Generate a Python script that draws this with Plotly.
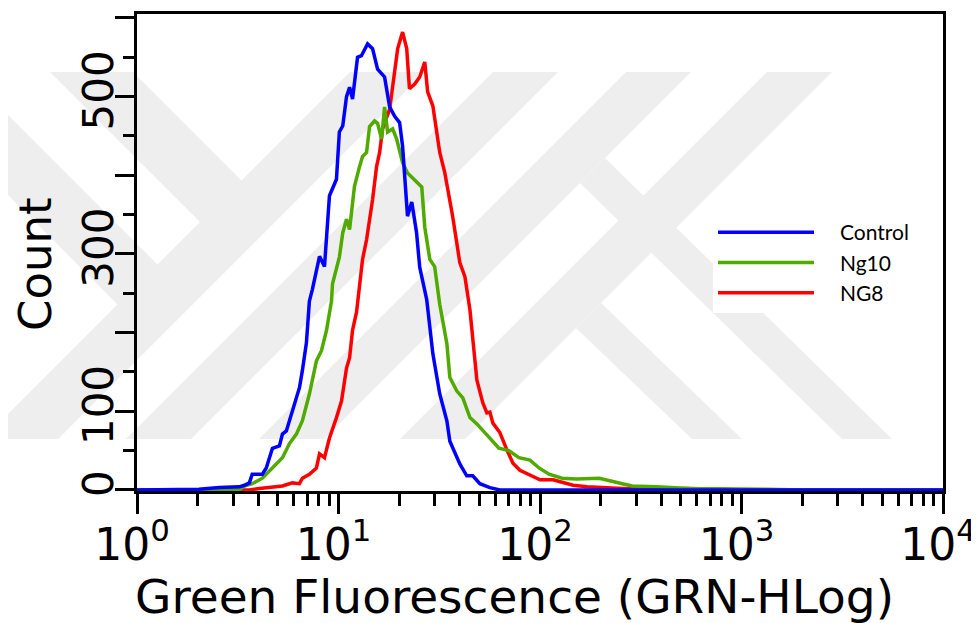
import plotly.graph_objects as go

# ---------------- data ----------------
control_x = [1, 2.03, 2.56, 3.22, 3.41, 3.61, 3.73, 4.19, 4.38, 4.70, 5.09, 5.27, 5.51, 5.90,
             6.40, 6.62, 6.93, 7.17, 7.42, 8.05, 8.52, 9.02, 9.77, 10.1, 10.5, 10.96, 11.35,
             11.74, 12.43, 13.0, 13.94, 14.76, 15.63, 16.93, 17.94, 19.0, 20.1, 20.8, 21.8,
             22.0, 23.1, 24.4, 25.3, 27.4, 29.4, 31.8, 34.5, 35.7, 40.0, 43.3, 46.4, 50.3,
             56.4, 63.2, 10000]
control_y = [0, 1, 3, 4, 6, 9, 20, 20, 28, 53, 56, 71, 75, 100,
             130, 152, 187, 240, 255, 297, 284, 374, 395, 455, 463, 500, 512,
             497, 550, 552, 567, 561, 535, 525, 487, 475, 467, 437, 369,
             348, 366, 327, 283, 242, 173, 122, 88, 62, 33, 18, 18, 8,
             3, 0, 0]

ng10_x = [1, 3.22, 3.41, 3.73, 4.19, 4.54, 4.92, 5.27, 5.71, 6.18, 6.62, 7.17, 7.77, 8.23,
          8.72, 9.23, 9.34, 10.1, 10.5, 10.96, 11.35, 12.0, 12.72, 13.16, 13.78, 14.26, 15.1,
          15.63, 16.36, 16.93, 17.53, 18.57, 19.44, 20.8, 22.0, 23.3, 25.9, 26.8, 28.4, 30.0,
          31.8, 34.5, 35.7, 38.6, 41.4, 44.9, 48.6, 54.5, 62.5, 70.1, 78.6, 89.2, 98.9,
          110.9, 128.6, 151, 197, 256, 287, 378, 551, 1331, 1966, 10000]
ng10_y = [0, 0, 5, 8, 15, 24, 33, 41, 59, 71, 88, 122, 164, 177,
          203, 240, 262, 296, 327, 344, 331, 386, 411, 424, 429, 462, 469,
          466, 446, 487, 455, 459, 446, 416, 403, 397, 385, 334, 293, 284,
          236, 186, 143, 126, 117, 92, 84, 70, 53, 50, 41, 38, 28,
          20, 15, 14, 15, 8, 5, 4, 2, 1, 0, 0]

ng8_x = [1, 3.61, 4.05, 5.27, 5.90, 6.40, 6.62, 7.17, 7.77, 8.05, 8.52, 9.02, 9.77, 10.35,
         10.96, 11.35, 11.74, 12.29, 13.16, 13.78, 14.76, 15.45, 16.0, 16.55, 17.94, 19.0,
         19.67, 20.8, 21.8, 22.5, 23.9, 25.3, 26.8, 27.7, 29.4, 31.8, 33.7, 36.9, 40.0, 42.4,
         44.9, 48.6, 52.0, 54.5, 56.4, 58.4, 63.2, 68.5, 73.4, 79.5, 89.2, 100, 116, 130,
         146, 171, 197, 256, 378, 551, 787, 1000, 10000]
ng8_y = [0, 0, 2, 5, 9, 8, 15, 20, 28, 46, 41, 66, 92, 113,
         155, 168, 203, 226, 293, 318, 369, 411, 429, 459, 484, 531,
         561, 582, 561, 510, 516, 525, 544, 506, 488, 429, 403, 347, 289, 271,
         229, 140, 111, 98, 99, 85, 73, 51, 34, 25, 19, 13, 13, 9,
         6, 4, 3, 2, 1, 2, 1, 0, 0]

series_names = ["Control", "Ng10", "NG8"]

x_tickvals = [1, 10, 100, 1000, 10000]
x_ticktext = ["10<sup>0</sup>", "10<sup>1</sup>", "10<sup>2</sup>", "10<sup>3</sup>", "10<sup>4</sup>"]
y_tickvals = [0, 100, 200, 300, 400, 500, 600]
y_ticktext = ["0", "100", "", "300", "", "500", ""]

x_title = "Green Fluorescence (GRN-HLog)"
y_title = "Count"

# ---------------- layout geometry (target image pixels) ----------------
W, H = 979, 623
L, R, T, B = 137, 943, 14, 491
OFF = 8  # page body margin of the html page


def px(x):
    return (x - L) / (R - L)


def py(y):
    return (B - y) / (B - T)


GAP = "\u2002\u2002"  # gap between legend line and label

fig = go.Figure()
fig.add_trace(go.Scatter(x=ng8_x, y=ng8_y, mode="lines", name=GAP + series_names[2],
                         line=dict(color="rgb(255,0,0)", width=3.5)))
fig.add_trace(go.Scatter(x=ng10_x, y=ng10_y, mode="lines", name=GAP + series_names[1],
                         line=dict(color="rgb(80,170,0)", width=3.5)))
fig.add_trace(go.Scatter(x=control_x, y=control_y, mode="lines", name=GAP + series_names[0],
                         line=dict(color="rgb(0,0,255)", width=3.5)))

# faint background watermark (decoration), in image pixel coordinates
wm_polys = [
    [(350, 72), (425, 72), (58, 439), (-17, 439)],
    [(50, 72), (133, 72), (245, 184), (204, 226)],
    [(0, 107), (160, 267), (120, 307), (0, 187)],
    [(493, 72), (558, 72), (191, 439), (126, 439)],
    [(626, 72), (691, 72), (324, 439), (259, 439)],
    [(767, 72), (832, 72), (465, 439), (400, 439)],
    [(580, 183), (605, 158), (892, 439), (842, 439)],
    [(576, 328), (601, 303), (742, 439), (692, 439)],
]
shapes = []
for poly in wm_polys:
    path = "M " + " L ".join(f"{px(x):.5f},{py(y):.5f}" for x, y in poly) + " Z"
    shapes.append(dict(type="path", path=path, xref="paper", yref="paper",
                       fillcolor="rgb(238,238,238)", line=dict(width=0), layer="below"))

fig.update_layout(
    width=W - OFF, height=H - OFF,
    margin=dict(l=L - OFF, r=W - R, t=T - OFF, b=H - B, pad=0, autoexpand=False),
    paper_bgcolor="white",
    plot_bgcolor="rgba(0,0,0,0)",
    shapes=shapes,
    showlegend=True,
    legend=dict(x=px(713), y=py(313), xanchor="left", yanchor="bottom",
                bgcolor="white", borderwidth=0, traceorder="reversed",
                itemwidth=96, font=dict(family="Lato", size=21, color="black")),
    xaxis=dict(type="log", range=[0, 4], showgrid=False, zeroline=False, automargin=False,
               showline=True, mirror=True, linecolor="black", linewidth=3,
               ticks="outside", ticklen=20, tickwidth=3, tickcolor="black",
               tickmode="array", tickvals=x_tickvals, ticktext=x_ticktext,
               ticklabelstandoff=-7, ticklabelshift=-5, ticklabeloverflow="allow",
               tickfont=dict(family="DejaVu Sans", size=44, color="black"),
               minor=dict(ticks="outside", ticklen=12, tickwidth=3, tickcolor="black",
                          dtick="D1", showgrid=False)),
    yaxis=dict(range=[-1.3, 605], showgrid=False, zeroline=False, automargin=False,
               showline=True, mirror=True, linecolor="black", linewidth=3,
               ticks="outside", ticklen=19, tickwidth=3, tickcolor="black",
               tickmode="array", tickvals=y_tickvals, ticktext=y_ticktext,
               tickangle=-90, ticklabelstandoff=-15, ticklabeloverflow="allow",
               tickfont=dict(family="DejaVu Sans", size=42, color="black"),
               minor=dict(ticks="outside", ticklen=11, tickwidth=3, tickcolor="black",
                          dtick=50, showgrid=False)),
    annotations=[
        dict(text=y_title, x=px(35), y=py(264), xref="paper", yref="paper",
             textangle=-90, showarrow=False, xanchor="center", yanchor="middle",
             font=dict(family="DejaVu Sans", size=45, color="black")),
        dict(text=x_title, x=px(514), y=py(596), xref="paper", yref="paper",
             showarrow=False, xanchor="center", yanchor="middle",
             font=dict(family="DejaVu Sans", size=47, color="black")),
    ],
)

fig.write_html("out.html")
